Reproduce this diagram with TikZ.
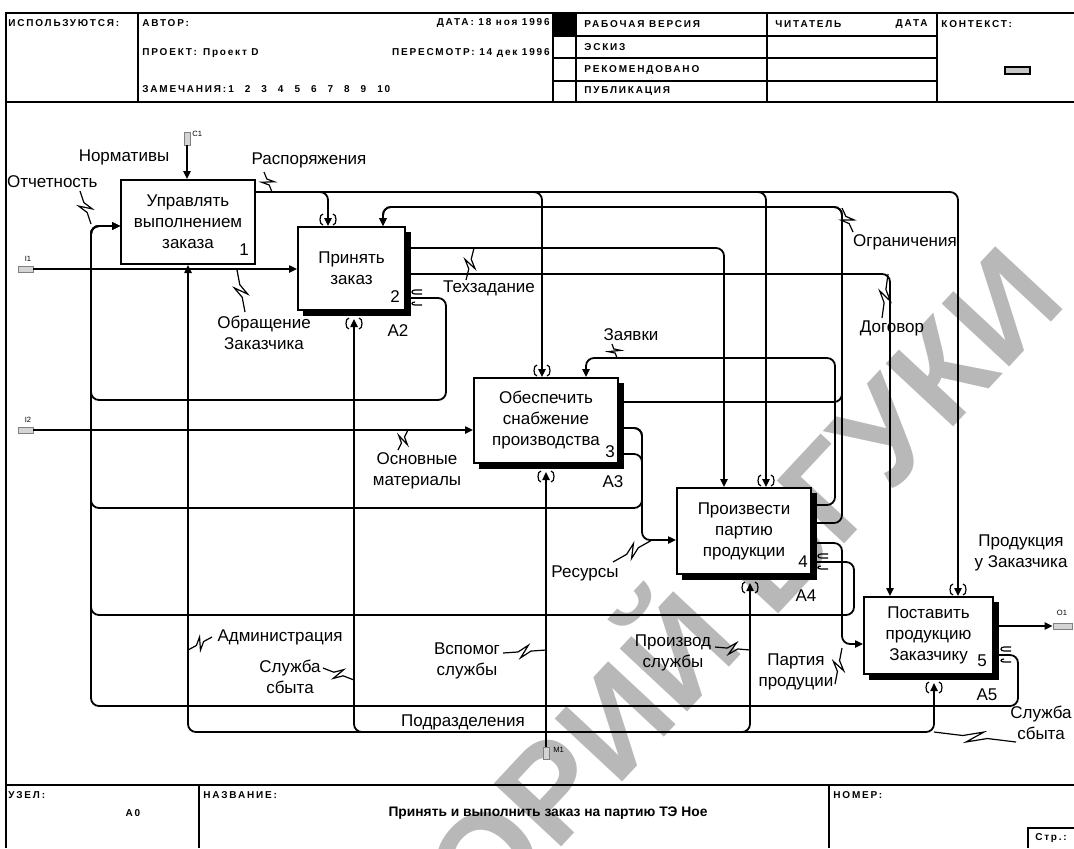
\documentclass[tikz,border=0pt]{standalone}
\usepackage{fontspec}
\setmainfont{Liberation Sans}
\newfontfamily\hdrfont[LetterSpace=18]{Liberation Sans}
\usetikzlibrary{arrows.meta,calc}

\definecolor{wmGray}{HTML}{B8B8B8}
\definecolor{tagGray}{HTML}{D4D4D4}

% zig between a label and its arrow
\newcommand{\squig}[2]{%
  \draw[sq] (#1) -- ($(#1)!0.35!(#2)$) -- ($(#1)!0.6!(#2)!3pt!90:(#2)$)
    -- ($(#1)!0.4!(#2)!3pt!-90:(#2)$) -- ($(#1)!0.65!(#2)$) -- (#2);}
% tunnel brackets round a vertical arrow end
\newcommand{\tunv}[3]{%
  \draw[sq] (#1-5,#2) .. controls (#1-9,#2) and (#1-9,#3) .. (#1-5,#3);
  \draw[sq] (#1+5,#2) .. controls (#1+9,#2) and (#1+9,#3) .. (#1+5,#3);}
% tunnel brackets round a horizontal arrow start
\newcommand{\tunh}[2]{%
  \draw[sq] (#1+13,#2-8) -- (#1+6,#2-8) .. controls (#1+2,#2-8) and (#1+2,#2-4) .. (#1+6,#2-4) -- (#1+13,#2-4);
  \draw[sq] (#1+13,#2+7) -- (#1+6,#2+7) .. controls (#1+2,#2+7) and (#1+2,#2+4) .. (#1+6,#2+4);}
% heavy shadow of a sub-box
\newcommand{\boxshadow}[1]{%
  \fill ($(#1.north east)+(0,6)$) rectangle ($(#1.south east)+(5,5)$);
  \fill ($(#1.south west)+(6,0)$) rectangle ($(#1.south east)+(5,5)$);}

\begin{document}
\begin{tikzpicture}[x=0.5pt, y=-0.5pt,
    box/.style={draw, line width=1pt, fill=white, align=center, inner sep=0pt,
      font=\fontsize{8.5}{10.5}\selectfont},
    lbl/.style={align=center, inner sep=0pt, font=\fontsize{8.5}{10.2}\selectfont},
    hdr/.style={inner sep=0pt, font=\hdrfont\bfseries\fontsize{5}{6}\selectfont},
    tiny/.style={inner sep=0pt, font=\fontsize{3.8}{4}\selectfont},
    frm/.style={line width=1.1pt},
    ln/.style={line width=0.9pt, rounded corners=4pt},
    arr/.style={ln, -{Triangle[length=4pt,width=3.6pt]}},
    sq/.style={line width=0.6pt},
    tag/.style={draw=gray, fill=tagGray, line width=0.4pt, inner sep=0pt}]

  \useasboundingbox (0,0) rectangle (1074,848);

  % watermark
  \node[rotate=47, text=wmGray, anchor=base east, inner sep=0pt,
        font=\bfseries\fontsize{67}{67}\selectfont] (wm) at (1069,303) {РЕПОЗИТОРИЙ БГУКИ};

  % frame and header
  \draw[frm] (6,848) -- (6,13) -- (1074,13);
  \draw[frm] (6,102) -- (1074,102);
  \draw[frm] (138,13) -- (138,102);
  \foreach \xx in {553,576,767,937} \draw[frm] (\xx,13) -- (\xx,102);
  \foreach \yy in {36,58,81} \draw[frm] (553,\yy) -- (937,\yy);
  \fill (553,13) rectangle (576,36);
  \draw[frm] (6,785) -- (1074,785);
  \draw[frm] (199,785) -- (199,848);
  \draw[frm] (829,785) -- (829,848);
  \draw[frm] (1028,848) -- (1028,828) -- (1074,828);

  \node[hdr, anchor=west] (hUse) at (8,23) {ИСПОЛЬЗУЮТСЯ:};
  \node[hdr, anchor=west] (hAut) at (142,23) {АВТОР:};
  \node[hdr, anchor=east] (hDat) at (550,23) {ДАТА: 18 ноя 1996};
  \node[hdr, anchor=west] (hPrj) at (142,53) {ПРОЕКТ:\hspace{3pt}Проект D};
  \node[hdr, anchor=east] (hRev) at (550,53) {ПЕРЕСМОТР: 14 дек 1996};
  \node[hdr, anchor=west] (hRem) at (142,89) {ЗАМЕЧАНИЯ:\hspace{1pt}1\hspace{5.5pt}2\hspace{5.5pt}3\hspace{5.5pt}4\hspace{5.5pt}5\hspace{5.5pt}6\hspace{5.5pt}7\hspace{5.5pt}8\hspace{5.5pt}9\hspace{5.5pt}10};
  \node[hdr, anchor=west] (hWrk) at (584,24) {РАБОЧАЯ ВЕРСИЯ};
  \node[hdr, anchor=west] (hDrf) at (584,47) {ЭСКИЗ};
  \node[hdr, anchor=west] (hRec) at (584,70) {РЕКОМЕНДОВАНО};
  \node[hdr, anchor=west] (hPub) at (584,91) {ПУБЛИКАЦИЯ};
  \node[hdr, anchor=west] (hRdr) at (775,24) {ЧИТАТЕЛЬ};
  \node[hdr, anchor=east] (hRdt) at (928,24) {ДАТА};
  \node[hdr, anchor=west] (hCtx) at (941,24) {КОНТЕКСТ:};
  \draw[fill=gray!45, line width=0.8pt] (1005,67) rectangle (1030,74);

  \node[hdr, anchor=west] (fNode) at (8,795) {УЗЕЛ:};
  \node[hdr] (fA0) at (133,813) {А0};
  \node[hdr, anchor=west] (fName) at (203,795) {НАЗВАНИЕ:};
  \node[inner sep=0pt, font=\bfseries\fontsize{6.9}{7}\selectfont] (fTitle) at (548,813)
      {Принять и выполнить заказ на партию ТЭ Ное};
  \node[hdr, anchor=west] (fNum) at (833,795) {НОМЕР:};
  \node[hdr] (fPage) at (1051,838) {Стр.:};

  % activity boxes
  \node[box, minimum width=67pt, minimum height=42pt] (b1) at (188,222)
      {Управлять\\выполнением\\заказа};
  \node[box, minimum width=53.5pt, minimum height=41.5pt] (b2) at (351.5,268.5)
      {Принять\\заказ};
  \node[box, minimum width=72pt, minimum height=42.5pt] (b3) at (546,420.5)
      {Обеспечить\\снабжение\\производства};
  \node[box, minimum width=67pt, minimum height=43pt] (b4) at (744,531)
      {Произвести\\партию\\продукции};
  \node[box, minimum width=64.5pt, minimum height=38.5pt] (b5) at (928.5,635.5)
      {Поставить\\продукцию\\Заказчику};
  \boxshadow{b2}
  \boxshadow{b3}
  \boxshadow{b4}
  \boxshadow{b5}

  \node[lbl] (n1) at (244,250) {1};
  \node[lbl] (n2) at (395,297) {2};
  \node[lbl] (n3) at (610,452) {3};
  \node[lbl] (n4) at (803,562) {4};
  \node[lbl] (n5) at (982,661) {5};
  \node[lbl] (a2) at (398,331) {А2};
  \node[lbl] (a3) at (613,482) {А3};
  \node[lbl] (a4) at (806,596) {А4};
  \node[lbl] (a5) at (987,695) {А5};

  % border arrows
  \node[tag, minimum width=3pt, minimum height=6.5pt] (c1tag) at (187,138.5) {};
  \node[tiny, anchor=west] (c1lbl) at (192,134) {C1};
  \node[tag, minimum width=7.5pt, minimum height=3pt] (i1tag) at (25.5,269) {};
  \node[tiny] (i1lbl) at (28,259) {I1};
  \node[tag, minimum width=7.5pt, minimum height=3pt] (i2tag) at (25.5,430) {};
  \node[tiny] (i2lbl) at (28,420) {I2};
  \node[tag, minimum width=9.5pt, minimum height=3pt] (o1tag) at (1062.5,626) {};
  \node[tiny] (o1lbl) at (1062,613) {O1};
  \node[tag, minimum width=3pt, minimum height=6pt] (m1tag) at (546,753) {};
  \node[tiny, anchor=west] (m1lbl) at (553,750) {M1};

  \draw[arr] (c1tag.south) -- (c1tag.south |- b1.north);
  \draw[arr] (i1tag.east) -- (i1tag.east -| b2.west);
  \draw[arr] (i2tag.east) -- (i2tag.east -| b3.west);
  \draw[arr] (b5.east |- 0,626) -- (o1tag.west);

  % mechanisms
  \coordinate (mj) at (546,732);
  \draw[arr, shorten >=4pt] (m1tag.north) -- (m1tag.north |- b3.south);
  \draw[arr] (mj) -- (188,732) -- (b1.south);
  \draw[arr, shorten >=4pt] (mj) -- (354,732) -- (b2.south -| 354,0);
  \draw[arr, shorten >=4pt] (mj) -- (750,732) -- (b4.south -| 750,0);
  \draw[arr, shorten >=4pt] (mj) -- (934,732) -- (b5.south -| 934,0);

  % orders from box 1
  \draw[arr] (b1.east |- 0,192) -- (328,192) -- (b2.north -| 328,0);
  \draw[arr] (b1.east |- 0,192) -- (542,192) -- (b3.north -| 542,0);
  \draw[arr] (b1.east |- 0,192) -- (766,192) -- (b4.north -| 766,0);
  \draw[arr] (b1.east |- 0,192) -- (958,192) -- (b5.north -| 958,0);

  % outputs of box 2
  \draw[arr] (b2.east |- 0,248) -- (724,248) -- (b4.north -| 724,0);
  \draw[arr] (b2.east |- 0,274) -- (890,274) -- (b5.north -| 890,0);
  \draw[arr] (b2.east |- 0,298) -- (446,298) -- (446,400) -- (91,400) -- (91,226) -- (b1.west |- 0,226);

  % outputs of box 3
  \draw[arr] (b3.east |- 0,402) -- (842,402) -- (842,207) -- (383,207) -- (b2.north -| 383,0);
  \draw[arr] (b3.east |- 0,428) -- (642,428) -- (642,540) -- (b4.west |- 0,540);
  \draw[ln] (b3.east |- 0,454) -- (642,454) -- (642,480);
  \draw[arr] (b3.east |- 0,428) -- (642,428) -- (642,508) -- (91,508) -- (91,226) -- (b1.west |- 0,226);

  % outputs of box 4
  \draw[arr] (b4.east |- 0,505) -- (835,505) -- (835,358) -- (586,358) -- (b3.north -| 586,0);
  \draw[arr] (b4.east |- 0,523) -- (842,523) -- (842,207) -- (383,207) -- (b2.north -| 383,0);
  \draw[arr] (b4.east |- 0,543) -- (842,543) -- (842,644) -- (b5.west |- 0,644);
  \draw[arr] (b4.east |- 0,562) -- (854,562) -- (854,615) -- (91,615) -- (91,226) -- (b1.west |- 0,226);

  % outputs of box 5
  \draw[arr] (b5.east |- 0,655) -- (1018,655) -- (1018,706) -- (91,706) -- (91,226) -- (b1.west |- 0,226);

  % tunnel brackets
  \tunv{328}{214}{225}
  \tunv{542}{365}{376}
  \tunv{766}{475}{486}
  \tunv{958}{584}{595}
  \tunv{354}{318}{329}
  \tunv{546}{471}{482}
  \tunv{750}{582}{593}
  \tunv{934}{682}{693}
  \tunh{409}{298}
  \tunh{815}{562}
  \tunh{998}{655}

  % arrow labels
  \node[lbl] (tNorm) at (124,157) {Нормативы};
  \node[lbl, anchor=east] (tOtch) at (98,182) {Отчетность};
  \node[lbl] (tRasp) at (309,160) {Распоряжения};
  \node[lbl] (tObr) at (264,333) {Обращение\\Заказчика};
  \node[lbl] (tTech) at (489,288) {Техзадание};
  \node[lbl] (tOsn) at (417,471) {Основные\\материалы};
  \node[lbl] (tZay) at (631,335) {Заявки};
  \node[lbl] (tDog) at (892,328) {Договор};
  \node[lbl] (tOgr) at (905,242) {Ограничения};
  \node[lbl] (tRes) at (585,573) {Ресурсы};
  \node[lbl] (tProd) at (1021,553) {Продукция\\у Заказчика};
  \node[lbl] (tPart) at (796,672) {Партия\\продуции};
  \node[lbl] (tAdm) at (280,637) {Администрация};
  \node[lbl] (tSbL) at (290,677) {Служба\\сбыта};
  \node[lbl] (tVsp) at (467,661) {Вспомог\\службы};
  \node[lbl] (tPrs) at (673,653) {Производ\\службы};
  \node[lbl] (tPod) at (463,722) {Подразделения};
  \node[lbl] (tSbR) at (1041,723) {Служба\\сбыта};

  \squig{80,191}{91,224}
  \squig{264,172}{272,192}
  \squig{245,312}{237,270}
  \squig{466,280}{474,248}
  \squig{398,450}{408,430}
  \squig{612,344}{617,358}
  \squig{882,318}{888,274}
  \squig{853,232}{842,208}
  \squig{613,562}{652,540}
  \squig{835,684}{842,648}
  \squig{212,637}{188,650}
  \squig{323,668}{354,680}
  \squig{503,653}{546,650}
  \squig{715,647}{750,650}
  \squig{1016,742}{934,732}
\end{tikzpicture}
\end{document}
